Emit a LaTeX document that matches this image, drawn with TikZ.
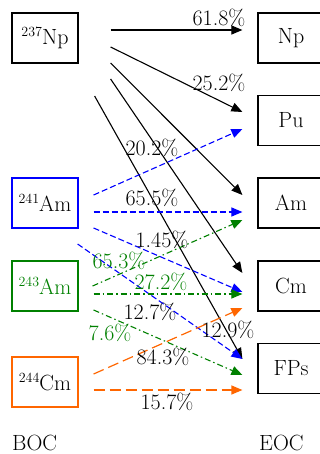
\documentclass[tikz,border=0pt]{standalone}
\usetikzlibrary{arrows.meta}
\definecolor{cgreen}{RGB}{0,128,0}
\definecolor{corange}{RGB}{255,102,0}
\begin{document}
\begin{tikzpicture}[x=1pt,y=-1pt,
  box/.style={draw,line width=1.2pt,minimum width=66pt,minimum height=50pt,inner sep=0pt,font=\rmfamily\fontsize{22}{26}\selectfont},
  lbl/.style={inner sep=0pt,font=\rmfamily\fontsize{22}{26}\selectfont},
  tip/.style={-{Triangle[length=11pt,width=9pt]}},
  blk/.style={tip,black,line width=1.1pt},
  blu/.style={tip,blue,line width=1.1pt,dash pattern=on 6pt off 3pt},
  grn/.style={tip,cgreen,line width=1.1pt,dash pattern=on 6pt off 3pt on 1.5pt off 3pt},
  org/.style={tip,corange,line width=1.2pt,dash pattern=on 11pt off 5pt}]
\clip (0,0) rectangle (320,454);
\newcommand{\sups}[1]{\raisebox{8.5pt}{\fontsize{14}{14}\selectfont #1}}
% left boxes
\node[box] (N237) at (45,38) {\sups{237}Np};
\node[box,draw=blue] (A241) at (45,203) {\sups{241}Am};
\node[box,draw=cgreen,text=cgreen] (A243) at (45,286) {\sups{243}Am};
\node[box,draw=corange] (C244) at (45,382) {\sups{244}Cm};
% right boxes
\node[box] (Np) at (291,38) {Np};
\node[box] (Pu) at (291,120.5) {Pu};
\node[box] (Am) at (291,203) {Am};
\node[box] (Cm) at (291,286) {Cm};
\node[box] (FP) at (291,368.5) {FPs};
% black arrows from 237Np
\draw[blk] ([xshift=32pt,yshift=8pt]N237.east) -- ([xshift=-15pt,yshift=8pt]Np.west);
\draw[blk] ([xshift=32pt,yshift=-9pt]N237.east) -- ([xshift=-15pt,yshift=8.5pt]Pu.west);
\draw[blk] ([xshift=32pt,yshift=-25pt]N237.east) -- ([xshift=-15pt,yshift=8pt]Am.west);
\draw[blk] ([xshift=32pt,yshift=-41pt]N237.east) -- ([xshift=-15pt,yshift=13pt]Cm.west);
\draw[blk] ([xshift=16pt,yshift=-58pt]N237.east) -- ([xshift=-15pt,yshift=9.5pt]FP.west);
% blue arrows from 241Am
\draw[blu] ([xshift=15pt,yshift=8pt]A241.east) -- ([xshift=-15pt,yshift=-8.5pt]Pu.west);
\draw[blu] ([xshift=15pt,yshift=-9pt]A241.east) -- ([xshift=-15pt,yshift=-9pt]Am.west);
\draw[blu] ([xshift=15pt,yshift=-25pt]A241.east) -- ([xshift=-15pt,yshift=-6pt]Cm.west);
\draw[blu] ([xshift=-1pt,yshift=-41pt]A241.east) -- ([xshift=-15pt,yshift=9.5pt]FP.west);
% green arrows from 243Am
\draw[grn] ([xshift=14pt,yshift=0pt]A243.east) -- ([xshift=-15pt,yshift=-17pt]Am.west);
\draw[grn] ([xshift=15pt,yshift=-8pt]A243.east) -- ([xshift=-15pt,yshift=-8pt]Cm.west);
\draw[grn] ([xshift=15pt,yshift=-24pt]A243.east) -- ([xshift=-15pt,yshift=-6.5pt]FP.west);
% orange arrows from 244Cm
\draw[org] ([xshift=15pt,yshift=8pt]C244.east) -- ([xshift=-15pt,yshift=-22pt]Cm.west);
\draw[org] ([xshift=15pt,yshift=-8pt]C244.east) -- ([xshift=-15pt,yshift=-21.5pt]FP.west);
% labels
\node[lbl] (l1) at (219,18) {61.8\%};
\node[lbl] (l2) at (219,83) {25.2\%};
\node[lbl] (l3) at (152,148) {20.2\%};
\node[lbl] (l4) at (152,198) {65.5\%};
\node[lbl] (l5) at (162,240) {1.45\%};
\node[lbl,text=cgreen] (l6) at (119,261) {65.3\%};
\node[lbl,text=cgreen] (l7) at (161,282) {27.2\%};
\node[lbl] (l8) at (150,312) {12.7\%};
\node[lbl] (l9) at (228,330) {12.9\%};
\node[lbl,text=cgreen] (l10) at (110,333) {7.6\%};
\node[lbl] (l11) at (163,357) {84.3\%};
\node[lbl] (l12) at (167,402) {15.7\%};
\node[lbl,anchor=base west] (boc) at (12,450) {BOC};
\node[lbl,anchor=base west] (eoc) at (259,450) {EOC};
\end{tikzpicture}
\end{document}
